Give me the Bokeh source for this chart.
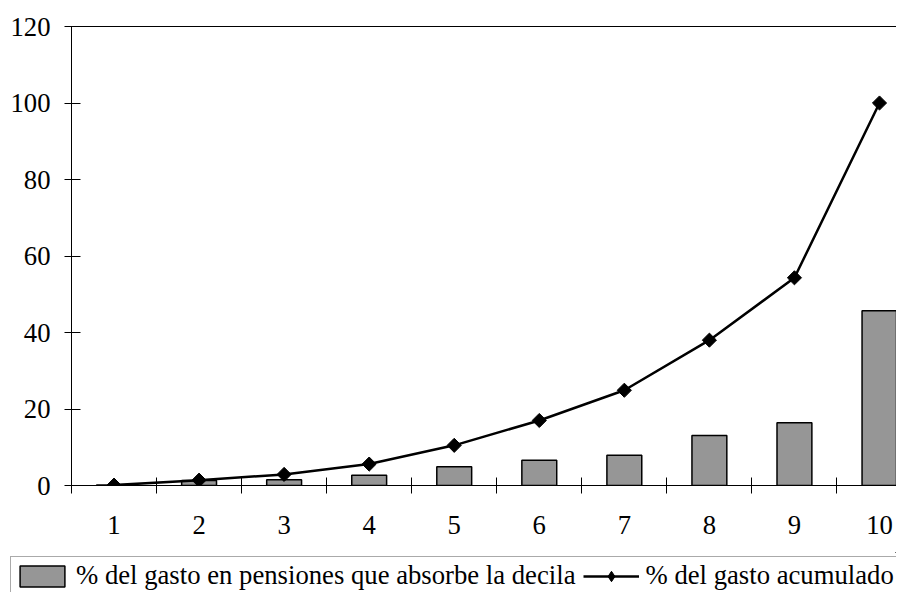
from bokeh.plotting import figure
from bokeh.models import (Range1d, FixedTicker, LinearAxis, Legend, LegendItem,
                          ColumnDataSource)
from bokeh.embed import file_html
from bokeh.resources import INLINE

# ---- data ----
deciles = [1, 2, 3, 4, 5, 6, 7, 8, 9, 10]
decile_labels = ["1", "2", "3", "4", "5", "6", "7", "8", "9", "10"]
pct_decila = [0.1, 1.3, 1.5, 2.7, 4.9, 6.6, 7.9, 13.1, 16.4, 45.7]
pct_acumulado = [0.1, 1.4, 2.9, 5.6, 10.5, 17.0, 24.9, 38.0, 54.3, 100.0]
y_ticks = [0, 20, 40, 60, 80, 100, 120]
label_bars = "% del gasto en pensiones que absorbe la decila"
label_line = "% del gasto acumulado"

FONT = "Liberation Serif"
FSIZE = "26.7px"

BAR_STYLE = dict(fill_color="#969696", line_color="black", line_width=1.5)
LINE_STYLE = dict(line_color="black", line_width=2.5)

src = ColumnDataSource(dict(decil=deciles, decila=pct_decila, acum=pct_acumulado))

p = figure(width=896, height=552, output_backend="svg", toolbar_location=None,
           x_range=Range1d(0.5, 10.2), y_range=Range1d(0, 120),
           min_border_left=71, min_border_top=26, min_border_right=0,
           min_border_bottom=67, background_fill_color="white",
           border_fill_color="white")
p.outline_line_color = None
p.xgrid.visible = False
p.ygrid.visible = False

p.vbar(x="decil", top="decila", width=0.41, source=src, **BAR_STYLE)
p.line(x="decil", y="acum", source=src, **LINE_STYLE)
p.scatter(x="decil", y="acum", source=src, marker="square", angle=0.785398,
          size=10, fill_color="black", line_color="black")

# x axis: labels at category centres, tick marks at category boundaries
boundaries = [d - 0.5 for d in deciles] + [deciles[-1] + 0.5]
xa = p.xaxis[0]
xa.ticker = FixedTicker(ticks=deciles, minor_ticks=boundaries)
xa.major_label_overrides = {d: s for d, s in zip(deciles, decile_labels)}
xa.major_tick_line_color = None
xa.major_tick_in = 0
xa.major_tick_out = 8
xa.minor_tick_in = 8
xa.minor_tick_out = 8
xa.minor_tick_line_color = "black"
xa.axis_line_color = "black"
xa.major_label_standoff = 22
xa.major_label_text_font = FONT
xa.major_label_text_font_size = FSIZE
xa.major_label_text_color = "black"

ya = p.yaxis[0]
ya.ticker = FixedTicker(ticks=y_ticks)
ya.major_tick_in = 9
ya.major_tick_out = 7
ya.minor_tick_line_color = None
ya.major_tick_line_color = "black"
ya.axis_line_color = "black"
ya.major_label_standoff = 14
ya.major_label_text_font = FONT
ya.major_label_text_font_size = FSIZE
ya.major_label_text_color = "black"

top_axis = LinearAxis(ticker=FixedTicker(ticks=[]), axis_line_color="black",
                      major_tick_line_color=None, minor_tick_line_color=None,
                      major_label_text_font_size="0px")
p.add_layout(top_axis, "above")

# ---- legend strip below the chart (same glyphs, kept outside its view) ----
leg = figure(width=896, height=40, output_backend="svg", toolbar_location=None,
             x_range=Range1d(-20, -19), y_range=Range1d(-20, -19),
             x_axis_type=None, y_axis_type=None,
             min_border_left=0, min_border_right=0, min_border_top=0,
             min_border_bottom=0, background_fill_color="white",
             border_fill_color="white")
leg.outline_line_color = None
leg.xgrid.visible = False
leg.ygrid.visible = False
r_bar = leg.vbar(x="decil", top="decila", width=0.41, source=src, **BAR_STYLE)
r_line = leg.line(x="decil", y="acum", source=src, **LINE_STYLE)
r_mark = leg.scatter(x="decil", y="acum", source=src, marker="diamond", size=10,
                     fill_color="black", line_color="black")

legend = Legend(items=[LegendItem(label=label_bars, renderers=[r_bar]),
                       LegendItem(label=label_line, renderers=[r_line, r_mark])],
                location=(10, -3), orientation="horizontal",
                glyph_width=56, glyph_height=26, label_standoff=6, spacing=8,
                padding=3, margin=0,
                label_text_font=FONT, label_text_font_size=FSIZE,
                label_text_color="black",
                border_line_color="#555555", border_line_width=1,
                background_fill_color="white", background_fill_alpha=1)
leg.add_layout(legend, "center")

open("out.html", "w").write(file_html([p, leg], INLINE))
